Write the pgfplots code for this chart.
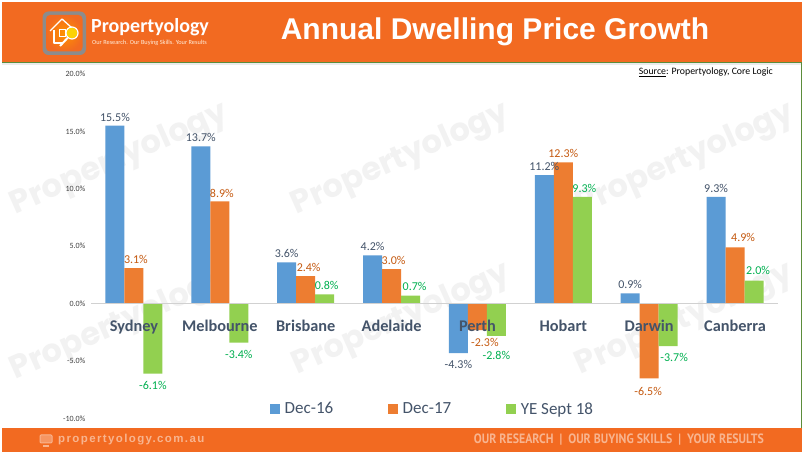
\documentclass[border=0pt]{standalone}
\usepackage{fontspec}
\setmainfont{Carlito}
\newfontfamily\arialfont{Liberation Sans}
\newfontfamily\urlfont[LetterSpace=12]{Liberation Sans}
\newfontfamily\wmfont{Poppins}
\newfontfamily\narrowfont[FakeStretch=0.88]{PT Sans}
\usepackage{pgfplots}
\usepackage{pgfplotstable}
\pgfplotsset{compat=1.18}

\definecolor{brandorange}{HTML}{F26A21}
\definecolor{framegreen}{HTML}{5B8C3A}
\definecolor{serblue}{HTML}{5B9BD5}
\definecolor{serorange}{HTML}{ED7D31}
\definecolor{sergreen}{HTML}{92D050}
\definecolor{labblue}{HTML}{44546A}
\definecolor{laborange}{HTML}{C55A11}
\definecolor{labgreen}{HTML}{00B050}
\definecolor{wmark}{HTML}{F2F2F2}
\definecolor{footpeach}{HTML}{F8B48F}

% x, value, label shifts
\pgfplotstableread{
x y dx dy
0 15.5 0 1
1 13.7 0 1
2 3.6 0 1
3 4.2 0 1
4 -4.3 0 -4
5 11.2 0 1
6 0.9 0 1
7 9.3 0 1
}\decsixteen
\pgfplotstableread{
x y dx dy
0 3.1 2 1
1 8.9 2 0
2 2.4 3 1
3 3.0 2 1
4 -2.3 7.5 -5
5 12.3 0 1
6 -6.5 -1 -5
7 4.9 8 2
}\decseventeen
\pgfplotstableread{
x y dx dy
0 -6.1 0 -4
1 -3.4 0 -4
2 0.8 2 1
3 0.7 4 1
4 -2.8 0 -12
5 9.3 2 1
6 -3.7 6 -4
7 2.0 4 3
}\yesept

\begin{document}
\begin{tikzpicture}
\path[use as bounding box] (0,0) rectangle (804pt,454pt);

% frame, bands and watermark, coordinates are image pixels
\begin{scope}[x=1pt,y=-1pt,yshift=454pt]
\fill[white] (0,0) rectangle (804,454);
\foreach \px/\py in {120/160, 401/160, 686/160, 120/325, 402/320, 685/320}
  \node[wmark,rotate=24,font=\wmfont\bfseries\fontsize{32}{32}\selectfont] at (\px,\py) {Propertyology};
\draw[framegreen,line width=0.8pt] (2,62) -- (801.5,62) -- (801.5,428) -- (2,428);
\fill[black!8] (2,63) rectangle (801,65);
\fill[brandorange] (2,2) rectangle (802,62);
\fill[brandorange] (2,428.5) rectangle (802,452);
\end{scope}

\begin{axis}[
    at={(91pt,35.5pt)},
    anchor=south west,
    scale only axis,
    width=687pt,
    height=344.5pt,
    clip=false,
    axis on top,
    ybar=0pt,
    bar width=19pt,
    xmin=-0.5, xmax=7.5,
    ymin=-10, ymax=20,
    axis x line=middle,
    axis y line=left,
    x axis line style={-,draw=black!18,line width=0.9pt},
    y axis line style={draw=none},
    major tick length=0pt,
    xtick=data,
    xticklabels={Sydney,Melbourne,Brisbane,Adelaide,Perth,Hobart,Darwin,Canberra},
    xticklabel style={font=\bfseries\fontsize{16.3}{16}\selectfont,text=labblue,yshift=-13pt},
    ytick={-10,-5,0,5,10,15,20},
    yticklabel={\pgfmathprintnumber[fixed,fixed zerofill,precision=1]{\tick}\%},
    /pgf/number format/assume math mode=true,
    yticklabel style={font=\fontsize{8}{8}\selectfont,text=black!75,xshift=-2pt},
    visualization depends on={\thisrow{dx} \as \labdx},
    visualization depends on={\thisrow{dy} \as \labdy},
    nodes near coords={\pgfmathprintnumber[fixed,fixed zerofill,precision=1]{\pgfplotspointmeta}\%},
    every node near coord/.append style={font=\fontsize{12}{12}\selectfont,xshift=\labdx pt,yshift=\labdy pt},
    legend style={at={(176pt,9.5pt)},anchor=west,draw=none,fill=none,
      legend columns=3,font=\fontsize{17}{17}\selectfont,text=labblue,
      /tikz/every even column/.append style={column sep=53pt},
      /tikz/every odd column/.append style={column sep=2.5pt}},
    legend image code/.code={\fill[#1] (0pt,-5pt) rectangle (10pt,5pt);},
]
\addplot[fill=serblue,draw=none,nodes near coords style={text=labblue}] table[x=x,y=y] {\decsixteen};
\addplot[fill=serorange,draw=none,nodes near coords style={text=laborange}] table[x=x,y=y] {\decseventeen};
\addplot[fill=sergreen,draw=none,nodes near coords style={text=labgreen}] table[x=x,y=y] {\yesept};
\legend{Dec-16,Dec-17,YE Sept 18}
\end{axis}

\begin{scope}[x=1pt,y=-1pt,yshift=454pt]
% logo
\fill[black!45,rounded corners=6pt] (42.5,11.5) rectangle (86,55);
\shade[inner color=orange!85!yellow,outer color=brandorange,rounded corners=4pt] (46,15) rectangle (82.5,51.5);
\draw[white,line width=1.3pt,line join=round] (50,31) -- (62,19) -- (72,28);
\draw[white,line width=1.3pt,line join=round] (54,30) -- (54,43) -- (62,43);
\draw[white,line width=1pt] (59,30) rectangle (65,37);
\fill[yellow!70!orange] (72,33) circle (5.5pt);
\draw[white,line width=1.2pt] (72,33) circle (6pt);
\draw[white,line width=2pt] (67.5,38) -- (60,46);
\node[anchor=west,inner sep=0pt,white,font=\bfseries\fontsize{20}{20}\selectfont] at (91,27) {Propertyology};
\node[anchor=west,inner sep=0pt,white!85!orange,font=\fontsize{6.3}{7}\selectfont] at (92,43) {Our Research. Our Buying Skills. Your Results};
% title
\node[white,inner sep=0pt,font=\arialfont\bfseries\fontsize{30}{30}\selectfont] at (495,32) {Annual Dwelling Price Growth};
% source
\node[anchor=east,inner sep=0pt,font=\fontsize{9.8}{10}\selectfont] at (773,72) {\underline{Source}: Propertyology, Core Logic};
% footer
\draw[footpeach,line width=1pt,rounded corners=1pt,fill=footpeach!60!brandorange] (40,435) rectangle (52,443);
\draw[footpeach,line width=1.2pt] (43,446) -- (49,446);
\node[anchor=west,inner sep=0pt,footpeach,font=\urlfont\bfseries\fontsize{11.5}{12}\selectfont] at (58,440) {propertyology.com.au};
\node[anchor=east,inner sep=0pt,footpeach,font=\narrowfont\bfseries\fontsize{13.5}{14}\selectfont] at (764,440) {OUR RESEARCH\ \ |\ \ OUR BUYING SKILLS\ \ |\ \ YOUR RESULTS};
\end{scope}
\end{tikzpicture}
\end{document}
